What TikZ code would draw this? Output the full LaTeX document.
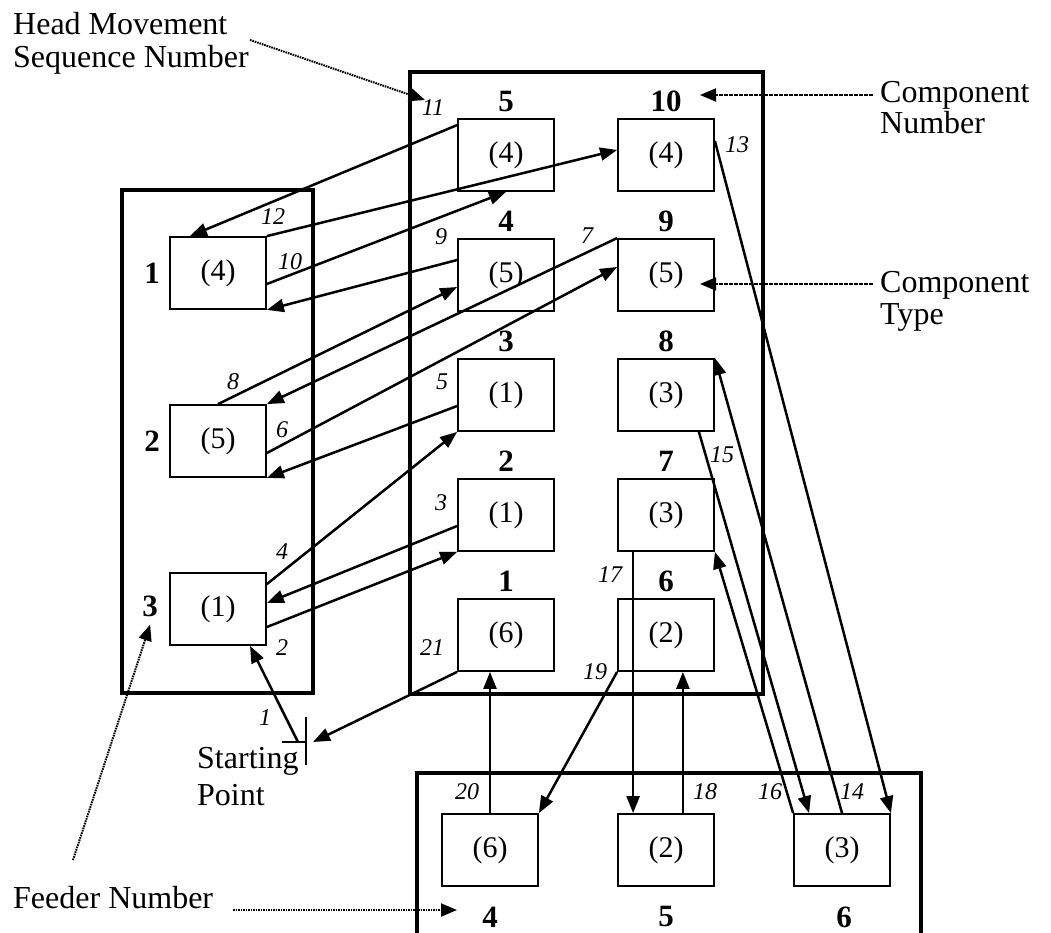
\documentclass[tikz,border=0pt]{standalone}
\usepackage{fontspec}
\setmainfont{Liberation Serif}
\usetikzlibrary{arrows.meta,calc}
\begin{document}
\begin{tikzpicture}[x=1pt,y=-1pt,
  box/.style={draw,line width=1.8pt,minimum width=96pt,minimum height=72pt,inner sep=0pt,font=\fontsize{30}{34}\selectfont},
  frame/.style={line width=4pt},
  mv/.style={line width=2.5pt,-{Triangle[length=17pt,width=13pt]}},
  ptr/.style={line width=2pt,dash pattern=on 1.6pt off 0.9pt,-{Triangle[length=16pt,width=13pt]}},
  seq/.style={font=\fontsize{24}{28}\selectfont\itshape,inner sep=0pt},
  num/.style={font=\fontsize{31}{34}\selectfont\bfseries,inner sep=0pt},
  txt/.style={font=\fontsize{32}{38}\selectfont,inner sep=0pt,anchor=base west}]

\useasboundingbox (0,0) rectangle (1051,933);
\fill[white] (0,0) rectangle (1051,933);

% frames
\draw[frame] (122,190) rectangle (313,693);
\draw[frame] (410,72) rectangle (763,694);
\draw[frame] (417,935) -- (417,773) -- (921,773) -- (921,935);

% boxes
\node[box] (F1) at (218,273) {(4)};
\node[box] (F2) at (218,441) {(5)};
\node[box] (F3) at (218,609) {(1)};
\node[box] (C5) at (506,155) {(4)};
\node[box] (C10) at (666,155) {(4)};
\node[box] (C4) at (506,275) {(5)};
\node[box] (C9) at (666,275) {(5)};
\node[box] (C3) at (506,395) {(1)};
\node[box] (C8) at (666,395) {(3)};
\node[box] (C2) at (506,515) {(1)};
\node[box] (C7) at (666,515) {(3)};
\node[box] (C1) at (506,635) {(6)};
\node[box] (C6) at (666,635) {(2)};
\node[box] (F4) at (490,850) {(6)};
\node[box] (F5) at (666,850) {(2)};
\node[box] (F6) at (842,850) {(3)};

% feeder numbers (left)
\node[num] (nf1) at ($(F1.west)+(-17,0)$) {1};
\node[num] (nf2) at ($(F2.west)+(-17,0)$) {2};
\node[num] (nf3) at ($(F3.west)+(-19,-3)$) {3};
% component numbers
\node[num] (nc5) at ($(C5.north)+(0,-17)$) {5};
\node[num] (nc10) at ($(C10.north)+(0,-17)$) {10};
\node[num] (nc4) at ($(C4.north)+(0,-17)$) {4};
\node[num] (nc9) at ($(C9.north)+(0,-17)$) {9};
\node[num] (nc3) at ($(C3.north)+(0,-17)$) {3};
\node[num] (nc8) at ($(C8.north)+(0,-17)$) {8};
\node[num] (nc2) at ($(C2.north)+(0,-17)$) {2};
\node[num] (nc7) at ($(C7.north)+(0,-17)$) {7};
\node[num] (nc1) at ($(C1.north)+(0,-17)$) {1};
\node[num] (nc6) at ($(C6.north)+(0,-17)$) {6};
% feeder numbers (bottom)
\node[num] (nf4) at ($(F4.south)+(0,30)$) {4};
\node[num] (nf5) at ($(F5.south)+(0,30)$) {5};
\node[num] (nf6) at ($(F6.south)+(2,30)$) {6};

% starting point
\coordinate (S) at (306,742);
\draw[line width=1.8pt] ($(S)+(0,-25)$) -- ($(S)+(0,23)$);
\draw[line width=1.8pt] ($(S)+(-24,0)$) -- (S);

% head movements
\draw[mv] ($(S)+(-8,0)$) -- ($(F3.south)+(32,0)$);
\draw[mv] ($(F3.east)+(0,18)$) -- (C2.south west);
\draw[mv] ($(C2.west)+(0,11)$) -- ($(F3.east)+(0,-6)$);
\draw[mv] ($(F3.north east)+(0,12)$) -- (C3.south west);
\draw[mv] ($(C3.west)+(0,11)$) -- (F2.south east);
\draw[mv] ($(F2.east)+(0,12)$) -- ($(C9.west)+(0,-8)$);
\draw[mv] (C9.north west) -- (F2.north east);
\draw[mv] (F2.north) -- ($(C4.west)+(0,12)$);
\draw[mv] ($(C4.west)+(0,-15)$) -- (F1.south east);
\draw[mv] ($(F1.east)+(0,11)$) -- (C5.south);
\draw[mv] ($(C5.north west)+(0,7)$) -- ($(F1.north)+(-28,0)$);
\draw[mv] (F1.north east) -- ($(C10.west)+(0,-5)$);
\draw[mv] ($(C10.east)+(0,-14)$) -- (F6.north east);
\draw[mv] (F6.north) -- (C8.north east);
\draw[mv] ($(C8.south east)+(-16,0)$) -- ($(F6.north west)+(16,0)$);
\draw[mv] (F6.north west) -- (C7.south east);
\draw[mv] ($(C7.south west)+(16,0)$) -- ($(F5.north west)+(16,0)$);
\draw[mv] ($(F5.north east)+(-32,0)$) -- ($(C6.south east)+(-32,0)$);
\draw[mv] (C6.south west) -- (F4.north east);
\draw[mv] (F4.north) -- ($(C1.south)+(-16,0)$);
\draw[mv] (C1.south west) -- ($(S)+(7,0)$);

% sequence labels
\node[seq] (s1) at (265,718) {1};
\node[seq] (s2) at (282,648) {2};
\node[seq] (s3) at (441,503) {3};
\node[seq] (s4) at (282,552) {4};
\node[seq] (s5) at (442,382) {5};
\node[seq] (s6) at (282,430) {6};
\node[seq] (s7) at (587,236) {7};
\node[seq] (s8) at (233,382) {8};
\node[seq] (s9) at (441,237) {9};
\node[seq] (s10) at (290,262) {10};
\node[seq] (s11) at (433,108) {11};
\node[seq] (s12) at (273,217) {12};
\node[seq] (s13) at (737,145) {13};
\node[seq] (s14) at (852,792) {14};
\node[seq] (s15) at (722,455) {15};
\node[seq] (s16) at (770,792) {16};
\node[seq] (s17) at (610,575) {17};
\node[seq] (s18) at (705,792) {18};
\node[seq] (s19) at (595,672) {19};
\node[seq] (s20) at (467,792) {20};
\node[seq] (s21) at (432,648) {21};

% explanatory texts
\node[txt] (hm1) at (13,35) {Head Movement};
\node[txt] (hm2) at (13,68) {Sequence Number};
\node[txt] (cn1) at (880,103) {Component};
\node[txt] (cn2) at (880,134) {Number};
\node[txt] (ct1) at (880,292) {Component};
\node[txt] (ct2) at (880,324) {Type};
\node[txt] (sp1) at (197,768) {Starting};
\node[txt] (sp2) at (197,805) {Point};
\node[txt] (fn) at (13,908) {Feeder Number};

% pointers
\coordinate (hmA) at (250,40);
\coordinate (hmB) at (425,100);
\draw[ptr] (hmA) -- (hmB);
\coordinate (cnA) at (873,95);
\coordinate (cnB) at (700,95);
\draw[ptr] (cnA) -- (cnB);
\coordinate (ctA) at (873,284);
\coordinate (ctB) at (700,284);
\draw[ptr] (ctA) -- (ctB);
\coordinate (fnA) at (73,860);
\draw[ptr] (fnA) -- ($(nf3.south)+(0,8)$);
\coordinate (fnB) at (233,910);
\coordinate (fnC) at (457,910);
\draw[ptr] (fnB) -- (fnC);
\end{tikzpicture}
\end{document}
